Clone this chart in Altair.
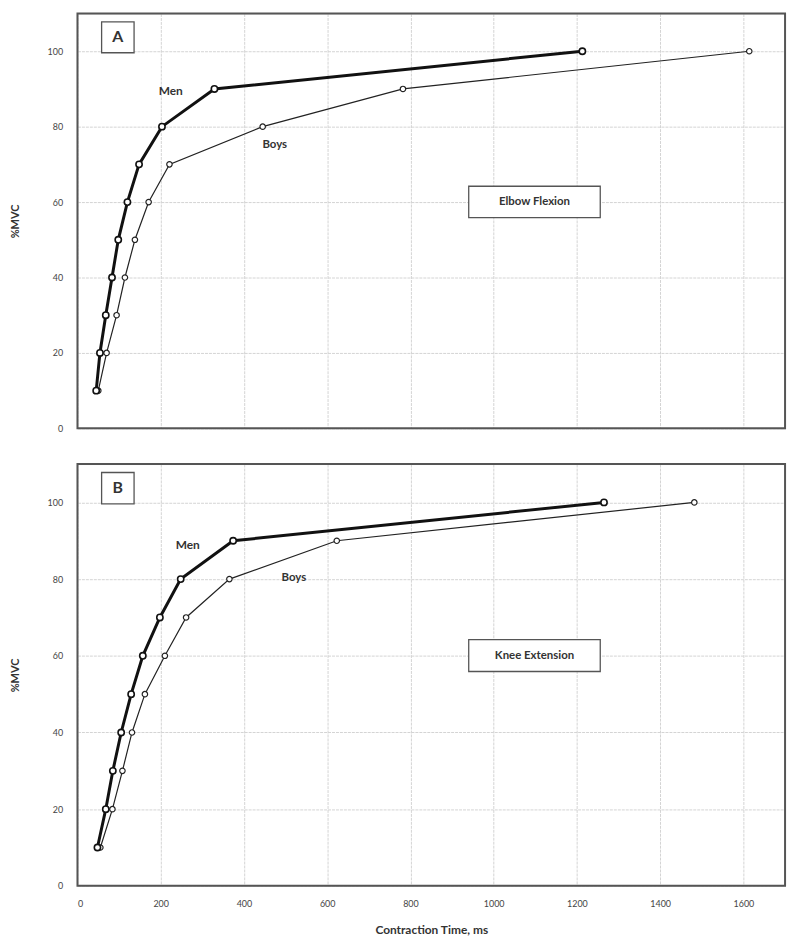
import altair as alt
import pandas as pd

# %MVC levels
levels = [10, 20, 30, 40, 50, 60, 70, 80, 90, 100]

# Contraction times (ms)
elbow_men = [45, 54, 68, 83, 98, 120, 148, 203, 329, 1213]
elbow_boys = [50, 70, 94, 114, 138, 171, 221, 445, 782, 1614]
knee_men = [48, 68, 85, 105, 129, 157, 198, 248, 374, 1265]
knee_boys = [55, 84, 108, 131, 162, 210, 261, 365, 623, 1482]

x_ticks = [0, 200, 400, 600, 800, 1000, 1200, 1400, 1600]
y_ticks = [0, 20, 40, 60, 80, 100]

FONT = "Lato"
TXT = "#333333"
W = 713


def panel(men, boys, letter, label, men_pos, boys_pos, height, show_x):
    df = pd.DataFrame({
        "t": men + boys,
        "p": levels + levels,
        "g": ["Men"] * len(men) + ["Boys"] * len(boys),
    })
    if show_x:
        xaxis = alt.Axis(values=x_ticks, format="d", grid=True, gridColor="#d4d4d4", gridDash=[3, 1],
                         ticks=False, domain=False, labelFontSize=9, labelColor="#444",
                         labelPadding=14, labelFont=FONT,
                         title="Contraction Time, ms", titleFont=FONT, titleFontSize=12,
                         titleFontWeight="bold", titleColor=TXT, titlePadding=16)
    else:
        xaxis = alt.Axis(values=x_ticks, grid=True, gridColor="#d4d4d4", gridDash=[3, 1],
                         ticks=False, domain=False, labels=False, title=None)
    x = alt.X("t:Q", scale=alt.Scale(domain=[0, 1700], nice=False, zero=False), axis=xaxis)
    y = alt.Y("p:Q", scale=alt.Scale(domain=[0, 110], nice=False),
              axis=alt.Axis(values=y_ticks, grid=True, gridColor="#d4d4d4", gridDash=[3, 1],
                            ticks=False, domain=False, labelFontSize=9, labelColor="#444",
                            labelFont=FONT, labelPadding=15,
                            title="%MVC", titleFont=FONT, titleFontSize=11,
                            titleFontWeight="bold", titleColor=TXT, titlePadding=27))
    base = alt.Chart(df)
    boys_line = base.transform_filter(alt.datum.g == "Boys").mark_line(
        color="#222", strokeWidth=1.2).encode(x=x, y=y)
    men_line = base.transform_filter(alt.datum.g == "Men").mark_line(
        color="#111", strokeWidth=3).encode(x=x, y=y)
    boys_pts = base.transform_filter(alt.datum.g == "Boys").mark_point(
        shape="circle", filled=True, fill="white", stroke="#222", strokeWidth=1.2,
        size=30, opacity=1).encode(x=x, y=y)
    men_pts = base.transform_filter(alt.datum.g == "Men").mark_point(
        shape="circle", filled=True, fill="white", stroke="#111", strokeWidth=1.6,
        size=40, opacity=1).encode(x=x, y=y)

    # annotation boxes: panel letter and muscle-group label
    boxes = pd.DataFrame({
        "x": [58, 940], "x2": [136, 1256],
        "y": [99.6, 55.9], "y2": [107.8, 64.2],
    })
    rects = alt.Chart(boxes).mark_rect(fill="white", stroke="#555", strokeWidth=1.3).encode(
        x="x:Q", x2="x2:Q", y="y:Q", y2="y2:Q")
    texts = pd.DataFrame({
        "x": [97, 1098, men_pos[0], boys_pos[0]],
        "y": [103.7, 60.0, men_pos[1], boys_pos[1]],
        "s": [letter, label, "Men", "Boys"],
        "fs": [16, 11.5, 12, 11.5],
    })
    txt = alt.Chart(texts).mark_text(font=FONT, fontWeight="bold", color=TXT).encode(
        x="x:Q", y="y:Q", text="s:N",
        size=alt.Size("fs:Q", scale=None, legend=None))

    # plot-area frame
    frame = alt.Chart(pd.DataFrame({"k": [0]})).mark_rect(
        fill=None, fillOpacity=0, stroke="#555", strokeWidth=2).encode(
        x=alt.value(0), x2=alt.value(W), y=alt.value(0), y2=alt.value(height))

    return alt.layer(boys_line, men_line, boys_pts, men_pts, rects, txt, frame).properties(
        width=W, height=height)


a = panel(elbow_men, elbow_boys, "A", "Elbow Flexion", (224, 89.4), (474, 75.2), 418, False)
b = panel(knee_men, knee_boys, "B", "Knee Extension", (265, 88.9), (520, 80.3), 425, True)

chart = alt.vconcat(a, b, spacing=28).properties(
    padding={"left": 0, "top": 0, "right": 5, "bottom": 0}
).configure_view(stroke=None).configure(background="white")

chart.save("out.html", embed_options={"renderer": "svg", "actions": False})
